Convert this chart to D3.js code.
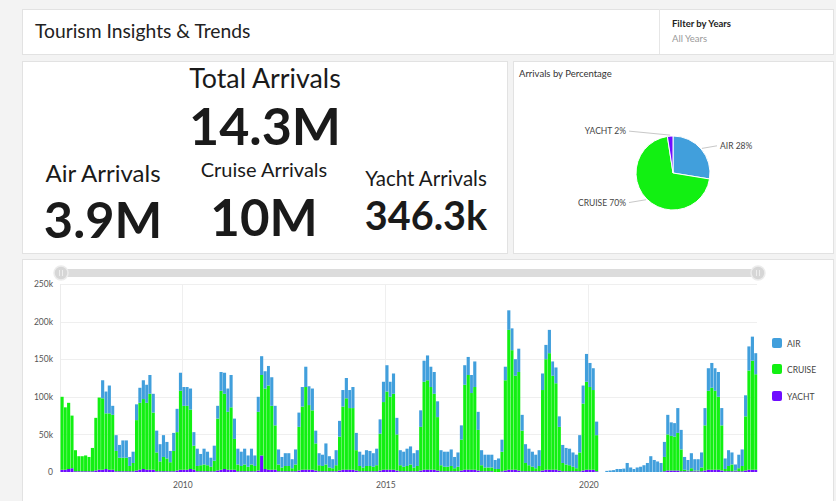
<!DOCTYPE html>
<html><head><meta charset="utf-8">
<script src="https://cdn.jsdelivr.net/npm/d3@7"></script>
<style>
html,body{margin:0;padding:0;background:#f3f3f3;}
svg{display:block;font-family:Lato,"Open Sans",sans-serif;}
</style></head><body>
<svg id="c" width="836" height="501"></svg>
<script>
// ---------- DATA ----------
const firstMonth = new Date(2007, 0, 1);
// monthly arrivals, thousands, Jan 2007 .. Feb 2024
const airK = [
 0,0,0,0,0,0,0,0,0,0,0,0,
 24,29,37,12,21,17,23,23,12,15,21,20,
 25,24,25,25,29,23,29,22,15,24,31,24,
 25,25,28,18,23,15,21,18,12,20,17,25,
 28,31,43,27,21,19,21,15,21,14,20,25,
 23,26,38,26,20,14,17,17,12,20,19,26,
 27,25,29,17,16,15,28,15,12,20,21,22,
 27,24,28,23,19,17,21,20,18,22,19,27,
 35,20,27,22,20,20,23,24,19,21,22,28,
 33,27,29,21,20,20,20,22,15,19,19,26,
 24,24,34,24,20,17,17,17,12,14,16,18,
 26,29,22,31,21,25,22,20,18,21,22,19,
 31,19,21,14,24,22,22,19,18,23,24,37,
 32,29,18,0,0,1.5,2,2.5,4,4,4.5,12,
 6,4,6,7,9,12,21,16,14,12,20,26,
 18,18,33,26,17,14,20,15,15,20,23,30,
 33,30,33,23,14,21,16,8,18,22,28,32,
 32,28
];
const cruiseK = [
 97,83,88,70,28,20,20,21,19,31,70,96,
 95,74,75,73,27,18,18,18,7,11,67,89,
 93,89,101,76,25,13,19,17,12,27,51,105,
 85,85,79,32,7,8,9,8,6,14,69,105,
 100,77,83,41,9,7,9,6,9,7,78,107,
 107,112,85,59,9,5,7,7,4,9,58,84,
 110,86,79,36,8,7,9,5,4,8,45,84,
 95,82,82,27,7,5,7,7,6,8,49,90,
 104,97,101,48,8,6,7,9,5,7,58,117,
 119,110,101,71,8,6,6,7,4,6,41,113,
 126,102,110,54,8,5,5,5,4,4,26,120,
 186,159,125,131,54,11,8,6,4,7,107,147,
 155,125,115,58,11,9,8,6,4,25,89,117,
 110,106,48,0,0,0,0,0,0,0,0,0,
 0,0,0,0,0,0,0,0,0,0,19,48,
 46,45,50,29,2,1,4,1,1,5,60,105,
 109,105,97,60,3,7,9,1,4,7,72,132,
 145,127
];
const yachtK = [
 3,3,4,5,1,1,1,1,1,1,2,3,
 3,4,3,3,1,1,1,1,1,1,2,3,
 4,3,3,3,1,1,1,1,1,1,2,3,
 3,3,4,3,1,1,1,1,1,1,2,3,
 4,3,3,3,1,1,1,1,1,1,2,22,
 4,3,3,3,1,1,1,1,1,1,2,3,
 3,3,3,2,1,1,1,1,1,1,2,3,
 3,3,3,2,1,1,1,1,1,1,2,3,
 3,3,3,2,1,1,1,1,1,1,2,3,
 3,3,3,2,1,1,1,1,1,1,2,3,
 3,3,3,2,1,1,1,1,0,0,1,2,
 3,3,3,2,1,1,1,1,1,1,2,3,
 3,3,3,2,1,1,1,1,1,1,2,3,
 3,3,1,0,0,0,0,0,0,0,0,0,
 0,0,0,0,0,0,0,0,0,0,1,2,
 2,2,2,1,1,1,1,1,1,1,2,3,
 3,3,3,2,1,1,1,1,1,1,2,3,
 3,3
];
const yTicksK = [0,50,100,150,200,250];
const xTickYears = [2010,2015,2020];
const seriesKeys = ["air","cruise","yacht"];
const seriesNames = ["AIR","CRUISE","YACHT"];
const seriesColors = ["#419fdc","#12f012","#6f0cff"];
const kpiLabels = ["Total Arrivals","Air Arrivals","Cruise Arrivals","Yacht Arrivals"];
const kpiValues = ["14.3M","3.9M","10M","346.3k"];
const pieTotals = [3940000, 10000000, 346300];
const titleText = "Tourism Insights & Trends";
const filterLabel = "Filter by Years";
const filterValue = "All Years";
const pieTitle = "Arrivals by Percentage";

// ---------- DRAW ----------
const svg = d3.select("#c");
function panel(x,y,w,h){
  svg.append("rect").attr("x",x+0.5).attr("y",y+0.5).attr("width",w).attr("height",h)
    .attr("fill","#fff").attr("stroke","#e2e2e2");
}
panel(22,9,811,45);
panel(22,61,485,192);
panel(513,61,320,192);
panel(22,259,811,250);
svg.append("line").attr("x1",659.5).attr("x2",659.5).attr("y1",9).attr("y2",54).attr("stroke","#e6e6e6");

svg.append("text").attr("x",35).attr("y",37.5).attr("font-size",19.3).attr("fill","#222").text(titleText);
svg.append("text").attr("x",672).attr("y",26.5).attr("font-size",9.5).attr("font-weight",700).attr("fill","#222").text(filterLabel);
svg.append("text").attr("x",672).attr("y",42).attr("font-size",9.5).attr("fill","#9a9a9a").text(filterValue);

// KPIs
const kpiPos = [
  {x:265, ly:88, ls:26.8, vy:145, vs:52},
  {x:103, ly:182, ls:24, vy:238, vs:50.5},
  {x:264, ly:177, ls:20, vy:236, vs:51},
  {x:426, ly:186, ls:20.5, vy:230, vs:39.6}
];
kpiPos.forEach((p,i)=>{
  svg.append("text").attr("x",p.x).attr("y",p.ly).attr("text-anchor","middle")
    .attr("font-size",p.ls).attr("fill","#1a1a1a").text(kpiLabels[i]);
  svg.append("text").attr("x",p.x).attr("y",p.vy).attr("text-anchor","middle")
    .attr("font-size",p.vs).attr("font-weight",700).attr("fill","#1a1a1a").text(kpiValues[i]);
});

// Pie
svg.append("text").attr("x",519).attr("y",77).attr("font-size",9.5).attr("fill","#333").text(pieTitle);
const cx=673, cy=173, r=37;
const pieData = d3.pie().sort(null).value(d=>d)(pieTotals);
const arc = d3.arc().innerRadius(0).outerRadius(r);
const pg = svg.append("g").attr("transform",`translate(${cx},${cy})`);
pg.selectAll("path").data(pieData).join("path").attr("d",arc)
  .attr("fill",(d,i)=>seriesColors[i]).attr("stroke","#fff").attr("stroke-width",1);
const totalPie = d3.sum(pieTotals);
pieData.forEach((d,i)=>{
  const a=(d.startAngle+d.endAngle)/2;
  const sx=Math.sin(a), sy=-Math.cos(a);
  const right = sx>=0;
  const ly = cy + (r+5)*sy;
  const lx = cx + (right?44:-44);
  svg.append("line").attr("x1",cx+(r+1)*sx).attr("y1",cy+(r+1)*sy).attr("x2",lx).attr("y2",ly)
    .attr("stroke","#c8c8c8").attr("stroke-width",1);
  svg.append("text").attr("x",cx+(right?47:-47)).attr("y",ly+3)
    .attr("text-anchor",right?"start":"end").attr("font-size",8.5).attr("fill","#444")
    .text(seriesNames[i]+" "+Math.round(d.value/totalPie*100)+"%");
});

// Bar chart
const rows = airK.map((v,i)=>({date:d3.timeMonth.offset(firstMonth,i), air:v, cruise:cruiseK[i], yacht:yachtK[i]}));
const endDate = d3.timeMonth.offset(firstMonth, rows.length);
const x = d3.scaleTime().domain([firstMonth,endDate]).range([60.5,757.5]);
const y = d3.scaleLinear().domain([0,250]).range([472,284]);

const grid = svg.append("g");
grid.selectAll("line.h").data(yTicksK.slice(1)).join("line")
  .attr("x1",61).attr("x2",757).attr("y1",d=>Math.round(y(d))+0.5).attr("y2",d=>Math.round(y(d))+0.5)
  .attr("stroke","#efefef");
const yearDates = xTickYears.map(yr=>new Date(yr,0,1));
grid.selectAll("line.v").data(yearDates).join("line")
  .attr("x1",d=>Math.round(x(d))+0.5).attr("x2",d=>Math.round(x(d))+0.5).attr("y1",284).attr("y2",472)
  .attr("stroke","#efefef");
grid.append("line").attr("x1",60.5).attr("x2",60.5).attr("y1",284).attr("y2",472).attr("stroke","#ececec");

const stack = d3.stack().keys(["yacht","cruise","air"])(rows);
const colorOf = {air:seriesColors[0], cruise:seriesColors[1], yacht:seriesColors[2]};
svg.append("g").selectAll("g").data(stack).join("g").attr("fill",s=>colorOf[s.key])
  .selectAll("rect").data(s=>s).join("rect")
  .attr("x",d=>x(d.data.date))
  .attr("width",d=>Math.max(0,x(d3.timeMonth.offset(d.data.date,1))-x(d.data.date)-0.3))
  .attr("y",d=>y(d[1])).attr("height",d=>Math.max(0,y(d[0])-y(d[1])));

// axes
const yAxis = d3.axisLeft(y).tickValues(yTicksK).tickSize(0).tickPadding(0)
  .tickFormat(d=>d===0?"0":d+"k");
const ya = svg.append("g").attr("transform","translate(53,0)").call(yAxis);
ya.select(".domain").remove();
ya.selectAll("text").attr("font-size",8.5).attr("fill","#555").attr("font-family","Lato, 'Open Sans', sans-serif");
const xAxis = d3.axisBottom(x).tickValues(yearDates).tickSize(0).tickPadding(0).tickFormat(d3.timeFormat("%Y"));
const xa = svg.append("g").attr("transform","translate(0,482)").call(xAxis);
xa.select(".domain").remove();
xa.selectAll("text").attr("font-size",8.5).attr("fill","#555").attr("font-family","Lato, 'Open Sans', sans-serif");

// slider
svg.append("rect").attr("x",61).attr("y",269).attr("width",697).attr("height",8).attr("rx",4).attr("fill","#dcdcdc");
[61,758].forEach(hx=>{
  svg.append("circle").attr("cx",hx).attr("cy",273).attr("r",7).attr("fill","#d6d6d6").attr("stroke","#ececec").attr("stroke-width",1.5);
  [-1.5,1.5].forEach(o=>svg.append("line").attr("x1",hx+o).attr("x2",hx+o).attr("y1",270).attr("y2",276).attr("stroke","#f2f2f2").attr("stroke-width",0.8));
});

// legend
const lg = svg.append("g");
seriesNames.forEach((n,i)=>{
  const ly=[338,364,391][i];
  lg.append("rect").attr("x",772).attr("y",ly).attr("width",10).attr("height",10).attr("rx",2).attr("fill",seriesColors[i]);
  lg.append("text").attr("x",787).attr("y",ly+8.5).attr("font-size",8.5).attr("fill","#444").text(n);
});
</script>
</body></html>
